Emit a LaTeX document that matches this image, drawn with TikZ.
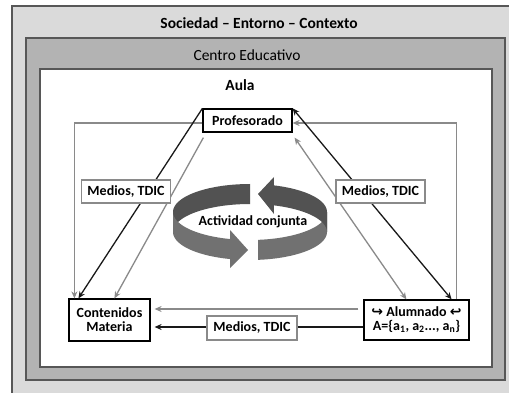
\documentclass[tikz,border=0pt]{standalone}
\usepackage{fontspec}
\setmainfont{Carlito}
\newfontfamily\symfont{DejaVu Sans}
\usetikzlibrary{arrows.meta,calc}

\definecolor{framegray}{HTML}{575757}
\definecolor{societyfill}{HTML}{DADADA}
\definecolor{centrefill}{HTML}{B3B3B3}
\definecolor{linkgray}{HTML}{8A8A8A}
\definecolor{ringback}{HTML}{525252}
\definecolor{ringfront}{HTML}{717171}

\begin{document}
\begin{tikzpicture}[x=1pt,y=-1pt,
  frame/.style={draw=framegray,line width=1.5pt},
  lbl/.style={font=\bfseries\fontsize{14}{16}\selectfont},
  actor/.style={lbl,draw=black,line width=1.2pt,fill=white,inner sep=0pt,align=center},
  medio/.style={lbl,draw=linkgray,line width=1.2pt,fill=white,inner sep=0pt,
                minimum width=89pt,minimum height=23pt},
  headtip/.tip={Stealth[length=7pt,width=6pt]},
  greylink/.style={draw=linkgray,line width=1.3pt},
  blacklink/.style={draw=black!90,line width=1.3pt}
]
\useasboundingbox (0,0) rectangle (509,393);
\clip (0,0) rectangle (509,393);

% nested frames: society, school, classroom
\fill[white] (0,0) rectangle (509,393);
\draw[frame,fill=societyfill] (12,6) rectangle (530,410);
\draw[frame,fill=centrefill] (26,38) rectangle (505,380);
\draw[frame,fill=white] (40,69) rectangle (492,367);

\node[anchor=base,font=\bfseries\fontsize{15.5}{18}\selectfont] (soc) at (259,29) {Sociedad – Entorno – Contexto};
\node[anchor=base,font=\fontsize{15.5}{18}\selectfont] (cen) at (247,61) {Centro Educativo};
\node[anchor=base,font=\bfseries\fontsize{15.5}{18}\selectfont] (aula) at (240,91) {Aula};

% the three actors
\node[actor,minimum width=89pt,minimum height=23pt] (prof) at (247.5,120.5) {Profesorado};
\node[actor,minimum width=81pt,minimum height=42pt] (cont) at (109.5,320) {Contenidos\\[-2pt]Materia};
\node[actor,minimum width=105pt,minimum height=40pt] (alum) at (416.5,320)
  {{\symfont\bfseries ↪} Alumnado {\symfont\bfseries ↩}\\[-2pt]A=\{a\textsubscript{1}, a\textsubscript{2}..., a\textsubscript{n}\}};

% connectors on the left
\draw[greylink,-headtip] ([yshift=-2.5pt]prof.west) -| ($(cont.north west)+(6,0)$);
\draw[blacklink,-headtip] (prof.north west) -- ($(cont.north west)+(10,0)$);
\draw[greylink,-headtip] ($(prof.south west)+(1,5)$) -- ($(cont.north west)+(46,0)$);

% connectors on the right
\draw[greylink,-headtip] ($(alum.north east)+(-13,0)$) |- ([yshift=-2.5pt]prof.east);
\draw[blacklink,headtip-headtip] (prof.north east) -- ($(alum.north east)+(-18,0)$);
\draw[greylink,headtip-headtip] ($(prof.south east)+(2,5)$) -- ($(alum.north west)+(43,0)$);

% connectors at the bottom
\draw[greylink,-headtip] ([xshift=-5pt,yshift=11pt]alum.west) -- ([xshift=4pt,yshift=11pt]cont.east);
\draw[blacklink,-headtip] ([yshift=-7pt]alum.west) -- ([xshift=4pt,yshift=-7pt]cont.east);

% media labels
\node[medio] (ml) at (126,191.5) {Medios, TDIC};
\node[medio] (mr) at (380.5,191.5) {Medios, TDIC};
\node[medio,minimum width=90pt,minimum height=24pt] (mb) at (252,328) {Medios, TDIC};

% circular arrows of the joint activity
% upper-left arrow: inner face at the back
\fill[ringback] plot[domain=90:180,samples=40] ({250+77*cos(\x)},{212-28*sin(\x)})
  -- plot[domain=180:90,samples=40] ({250+77*cos(\x)},{232-28*sin(\x)}) -- cycle;
% upper-left arrow: outer face at the front with its head
\fill[ringfront] plot[domain=180:255,samples=40] ({250+77*cos(\x)},{212-28*sin(\x)})
  -- (230,230) -- (248,250) -- (230,268)
  -- plot[domain=255:180,samples=40] ({250+77*cos(\x)},{232-28*sin(\x)}) -- cycle;
% lower-right arrow: outer face at the front
\fill[ringfront] plot[domain=276:360,samples=40] ({250+77*cos(\x)},{212-28*sin(\x)})
  -- plot[domain=360:276,samples=40] ({250+77*cos(\x)},{232-28*sin(\x)}) -- cycle;
% lower-right arrow: inner face at the back with its head
\fill[ringback] plot[domain=0:72,samples=40] ({250+77*cos(\x)},{212-28*sin(\x)})
  -- (274,177) -- (258,194) -- (274,214)
  -- plot[domain=72:0,samples=40] ({250+77*cos(\x)},{232-28*sin(\x)}) -- cycle;

\node[lbl] (act) at (253,222) {Actividad conjunta};
\end{tikzpicture}
\end{document}
